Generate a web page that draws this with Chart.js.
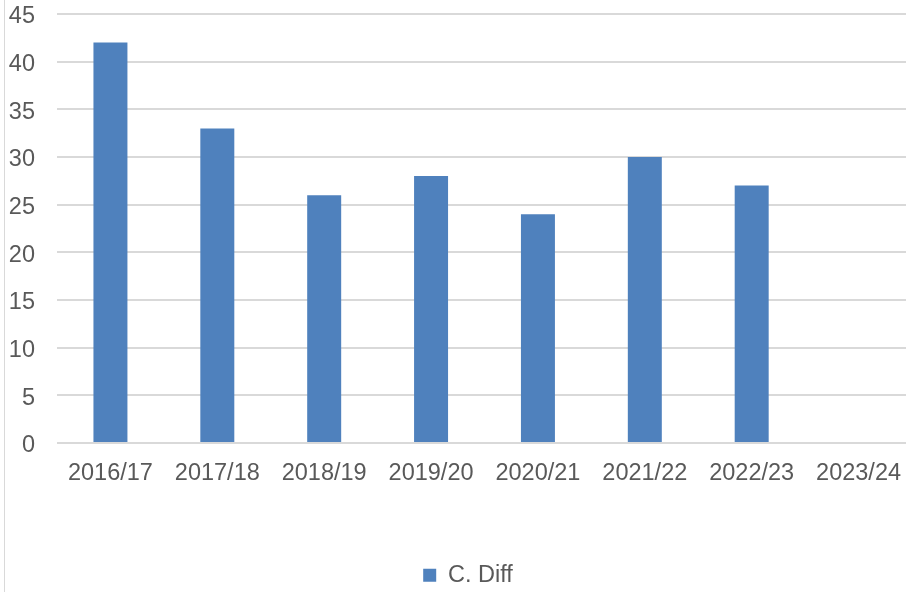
<!DOCTYPE html>
<html>
<head>
<meta charset="utf-8">
<script src="https://cdn.jsdelivr.net/npm/chart.js@4/dist/chart.umd.min.js"></script>
<style>
  html, body { margin: 0; padding: 0; background: #fff; overflow: hidden; }
  #wrap { position: relative; width: 906px; height: 592px; overflow: hidden; }
  #edge { position: absolute; left: 4px; top: 0; width: 1px; height: 592px; background: #d9d9d9; }
  canvas { position: absolute; left: 0; top: 0; }
</style>
</head>
<body>
<div id="wrap">
  <canvas id="c" width="912" height="592"></canvas>
  <div id="edge"></div>
</div>
<script>
const categories = ["2016/17", "2017/18", "2018/19", "2019/20", "2020/21", "2021/22", "2022/23", "2023/24"];
const cDiffValues = [42, 33, 26, 28, 24, 30, 27, null];
const seriesName = "C. Diff";
const yTicks = { min: 0, max: 45, step: 5 };

const FONT = "'Liberation Sans', Arial, sans-serif";
const TEXT = "#595959";

const legendShift = {
  id: 'legendShift',
  afterLayout(chart) {
    if (chart.legend) {
      chart.legend.left += 12;
      chart.legend.right += 12;
      chart.legend.top += 5;
      chart.legend.bottom += 5;
    }
  }
};

new Chart(document.getElementById('c'), {
  type: 'bar',
  data: {
    labels: categories,
    datasets: [{
      label: seriesName,
      data: cDiffValues,
      backgroundColor: '#4F81BD',
      borderWidth: 0,
      barPercentage: 1,
      categoryPercentage: 0.318
    }]
  },
  options: {
    responsive: false,
    animation: false,
    devicePixelRatio: 1,
    layout: { padding: { top: 14, left: 0, right: 0, bottom: 0 } },
    plugins: {
      tooltip: { enabled: false },
      legend: {
        position: 'bottom',
        labels: {
          boxWidth: 13,
          boxHeight: 13,
          padding: 5,
          color: TEXT,
          font: { family: FONT, size: 23.5 }
        }
      }
    },
    scales: {
      x: {
        grid: { display: false, drawTicks: false },
        border: { display: false },
        ticks: {
          color: TEXT,
          font: { family: FONT, size: 23.5 },
          padding: 16,
          maxRotation: 0,
          autoSkip: false
        },
        afterFit(scale) {
          scale.height = 110.5;
          scale.paddingLeft = 0;
          scale.paddingRight = 0;
        }
      },
      y: {
        min: yTicks.min,
        max: yTicks.max,
        grid: { color: '#d9d9d9', lineWidth: 2, drawTicks: false },
        border: { display: false },
        ticks: {
          stepSize: yTicks.step,
          color: TEXT,
          font: { family: FONT, size: 23.5 },
          padding: 22,
          labelOffset: 3
        },
        afterFit(scale) {
          scale.width = 57;
          scale.paddingTop = 0;
          scale.paddingBottom = 0;
        }
      }
    }
  },
  plugins: [legendShift]
});
</script>
</body>
</html>
